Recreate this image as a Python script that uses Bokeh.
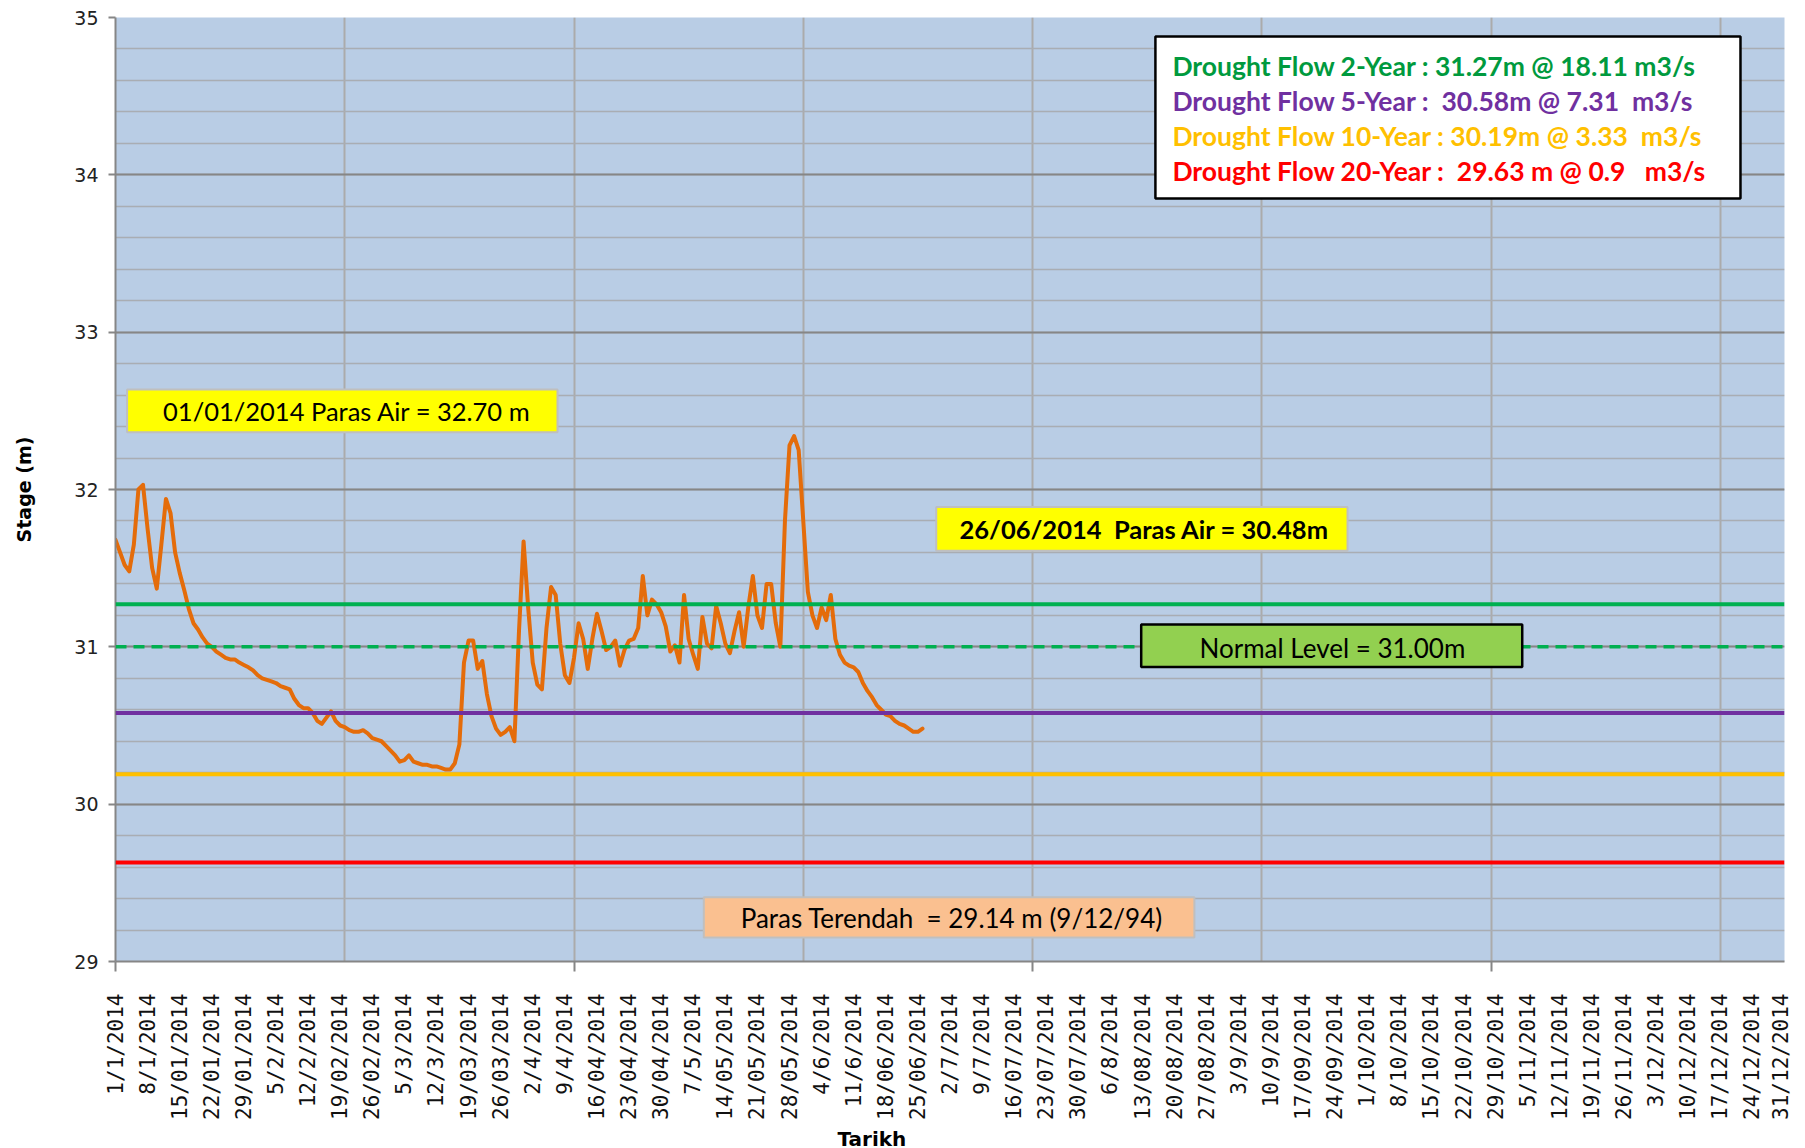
import math
from bokeh.plotting import figure
from bokeh.models import (FixedTicker, SingleIntervalTicker, Span, BoxAnnotation,
                          Label, Range1d, ColumnDataSource, Title)
from bokeh.embed import file_html
from bokeh.resources import INLINE

# ---------------- data ----------------
# daily stage (m) from 1/1/2014 to 26/06/2014
stage = [
    31.68, 31.60, 31.52, 31.48, 31.65, 32.00, 32.03, 31.75, 31.50, 31.37,
    31.65, 31.94, 31.85, 31.60, 31.47, 31.36, 31.24, 31.15, 31.11, 31.06,
    31.02, 31.00, 30.97, 30.95, 30.93, 30.92, 30.92, 30.90, 30.885, 30.87,
    30.85, 30.82, 30.80, 30.79, 30.78, 30.77, 30.75, 30.74, 30.73, 30.67,
    30.63, 30.61, 30.61, 30.58, 30.53, 30.51, 30.55, 30.59, 30.53, 30.50,
    30.49, 30.47, 30.46, 30.46, 30.47, 30.45, 30.42, 30.41, 30.40, 30.37,
    30.34, 30.31, 30.27, 30.28, 30.31, 30.27, 30.26, 30.25, 30.25, 30.24,
    30.24, 30.23, 30.22, 30.22, 30.26, 30.38, 30.90, 31.04, 31.04, 30.86,
    30.91, 30.70, 30.56, 30.48, 30.44, 30.46, 30.49, 30.40, 31.10, 31.67,
    31.25, 30.90, 30.76, 30.73, 31.12, 31.38, 31.33, 31.02, 30.82, 30.77,
    30.93, 31.15, 31.05, 30.86, 31.05, 31.21, 31.10, 30.98, 31.00, 31.04,
    30.88, 30.98, 31.04, 31.05, 31.12, 31.45, 31.20, 31.30, 31.27, 31.22,
    31.13, 30.97, 31.01, 30.90, 31.33, 31.05, 30.95, 30.86, 31.19, 31.02,
    30.99, 31.26, 31.15, 31.02, 30.96, 31.10, 31.22, 31.00, 31.25, 31.45,
    31.20, 31.12, 31.40, 31.40, 31.15, 31.00, 31.80, 32.28, 32.34, 32.25,
    31.80, 31.35, 31.20, 31.12, 31.25, 31.17, 31.33, 31.05, 30.95, 30.90,
    30.88, 30.87, 30.84, 30.77, 30.72, 30.68, 30.63, 30.60, 30.57, 30.56,
    30.53, 30.51, 30.50, 30.48, 30.46, 30.46, 30.48,
]
days = list(range(len(stage)))  # day offset from 1/1/2014

week_labels = [
    "1/1/2014", "8/1/2014", "15/01/2014", "22/01/2014", "29/01/2014",
    "5/2/2014", "12/2/2014", "19/02/2014", "26/02/2014", "5/3/2014",
    "12/3/2014", "19/03/2014", "26/03/2014", "2/4/2014", "9/4/2014",
    "16/04/2014", "23/04/2014", "30/04/2014", "7/5/2014", "14/05/2014",
    "21/05/2014", "28/05/2014", "4/6/2014", "11/6/2014", "18/06/2014",
    "25/06/2014", "2/7/2014", "9/7/2014", "16/07/2014", "23/07/2014",
    "30/07/2014", "6/8/2014", "13/08/2014", "20/08/2014", "27/08/2014",
    "3/9/2014", "10/9/2014", "17/09/2014", "24/09/2014", "1/10/2014",
    "8/10/2014", "15/10/2014", "22/10/2014", "29/10/2014", "5/11/2014",
    "12/11/2014", "19/11/2014", "26/11/2014", "3/12/2014", "10/12/2014",
    "17/12/2014", "24/12/2014", "31/12/2014",
]

NB = "\u00a0"
drought_levels = [31.27, 30.58, 30.19, 29.63]
drought_colors = ["#00B050", "#7030A0", "#FFC000", "#FF0000"]
drought_texts = [
    "Drought Flow 2-Year : 31.27m @ 18.11 m3/s",
    "Drought Flow 5-Year :" + NB + " 30.58m @ 7.31" + NB + " m3/s",
    "Drought Flow 10-Year : 30.19m @ 3.33" + NB + " m3/s",
    "Drought Flow 20-Year :" + NB + " 29.63 m @ 0.9" + NB + NB + " m3/s",
]
drought_text_colors = ["#009A3E", "#7030A0", "#FFC000", "#FF0000"]
normal_level = 31.00

# ---------------- figure ----------------
p = figure(frame_width=1669, frame_height=944,
           x_range=Range1d(0, 364), y_range=Range1d(29, 35),
           output_backend="svg", toolbar_location=None,
           min_border_left=115, min_border_top=17, min_border_right=8,
           min_border_bottom=175,
           background_fill_color="#B9CDE5", border_fill_color="white",
           outline_line_color=None)

# x axis (weekly labels, grid every 50 days, ticks every 100 days)
p.xaxis.ticker = FixedTicker(ticks=[7 * i for i in range(len(week_labels))],
                             minor_ticks=[0, 100, 200, 300])
p.xaxis.major_label_overrides = {7 * i: lab for i, lab in enumerate(week_labels)}
p.xaxis.major_label_orientation = math.pi / 2
p.xaxis.major_tick_line_color = None
p.xaxis.major_tick_out = 0
p.xaxis.major_tick_in = 0
p.xaxis.minor_tick_out = 10
p.xaxis.minor_tick_in = 0
p.xaxis.minor_tick_line_color = "#868686"
p.xaxis.minor_tick_line_width = 2
p.xaxis.major_label_standoff = 22
p.xaxis.major_label_text_font = "DejaVu Sans Mono"
p.xaxis.major_label_text_font_size = "21px"
p.xaxis.major_label_text_color = "#111111"
p.xaxis.axis_line_color = "#868686"
p.xaxis.axis_line_width = 2
p.xgrid.ticker = FixedTicker(ticks=list(range(50, 364, 50)))
p.xgrid.grid_line_color = "#ABABAB"
p.xgrid.grid_line_width = 2

# x axis title placed left of centre, as in the original
p.add_layout(Title(text="Tarikh", align="left", offset=722, standoff=4,
                   text_font="DejaVu Sans", text_font_style="bold",
                   text_font_size="20px", text_color="black"), "below")

# y axis
p.yaxis.ticker = SingleIntervalTicker(interval=1, num_minor_ticks=5)
p.yaxis.minor_tick_line_color = None
p.yaxis.major_tick_out = 7
p.yaxis.major_tick_in = 0
p.yaxis.major_tick_line_color = "#868686"
p.yaxis.major_tick_line_width = 2
p.yaxis.axis_line_color = "#868686"
p.yaxis.axis_line_width = 2
p.yaxis.major_label_standoff = 10
p.yaxis.major_label_text_font = "DejaVu Sans"
p.yaxis.major_label_text_font_size = "19px"
p.yaxis.major_label_text_color = "#222222"
p.yaxis.axis_label = "Stage (m)"
p.yaxis.axis_label_text_font = "DejaVu Sans"
p.yaxis.axis_label_text_font_style = "bold"
p.yaxis.axis_label_text_font_size = "19px"
p.yaxis.axis_label_text_color = "black"
p.yaxis.axis_label_standoff = 36
p.ygrid.grid_line_color = "#868686"
p.ygrid.grid_line_width = 2
p.ygrid.minor_grid_line_color = "#A9ADB3"
p.ygrid.minor_grid_line_width = 1.5

# stage line
src = ColumnDataSource(data=dict(day=days, stage=stage))
p.line("day", "stage", source=src, line_color="#E46C0A", line_width=4,
       line_join="round", line_cap="round")

# reference levels
p.add_layout(Span(location=normal_level, dimension="width", line_color="#00B050",
                  line_width=3.5, line_dash="11 7"))
for lvl, col in zip(drought_levels, drought_colors):
    p.add_layout(Span(location=lvl, dimension="width", line_color=col, line_width=4))

# ---------------- annotation boxes (layout positions in data units) ----------------
def box(l, r, t, b, fill, line, lw):
    p.add_layout(BoxAnnotation(left=l, right=r, top=t, bottom=b, fill_color=fill,
                               fill_alpha=1, line_color=line, line_width=lw,
                               line_alpha=1))

def label(x, y, text, size="26px", style="normal", color="black", align="center",
          font="Lato", angle=0):
    p.add_layout(Label(x=x, y=y, text=text, text_font=font, text_font_size=size,
                       text_font_style=style, text_color=color, text_align=align,
                       text_baseline="middle", angle=angle))

box(2.53, 96.4, 32.635, 32.364, "#FFFF00", "#BFBFBF", 2)
label(50.5, 32.50, "01/01/2014 Paras Air = 32.70 m", size="25.5px")

box(179.0, 268.7, 31.889, 31.611, "#FFFF00", "#BFBFBF", 2)
label(224.4, 31.752, "26/06/2014" + NB + " Paras Air = 30.48m", size="25.5px", style="bold")

box(223.7, 306.8, 31.142, 30.872, "#92D050", "black", 2.5)
label(265.4, 30.99, "Normal Level = 31.00m")

box(128.3, 235.3, 29.408, 29.152, "#FAC090", "#BFBFBF", 2)
label(182.4, 29.276, "Paras Terendah" + NB + " = 29.14 m (9/12/94)")

box(226.8, 354.4, 34.879, 33.850, "white", "black", 2.5)
for i, (t, c) in enumerate(zip(drought_texts, drought_text_colors)):
    label(230.5, 34.689 - i * 0.2205, t, size="26.5px", style="bold", color=c, align="left")

open("out.html", "w").write(file_html(p, INLINE))
